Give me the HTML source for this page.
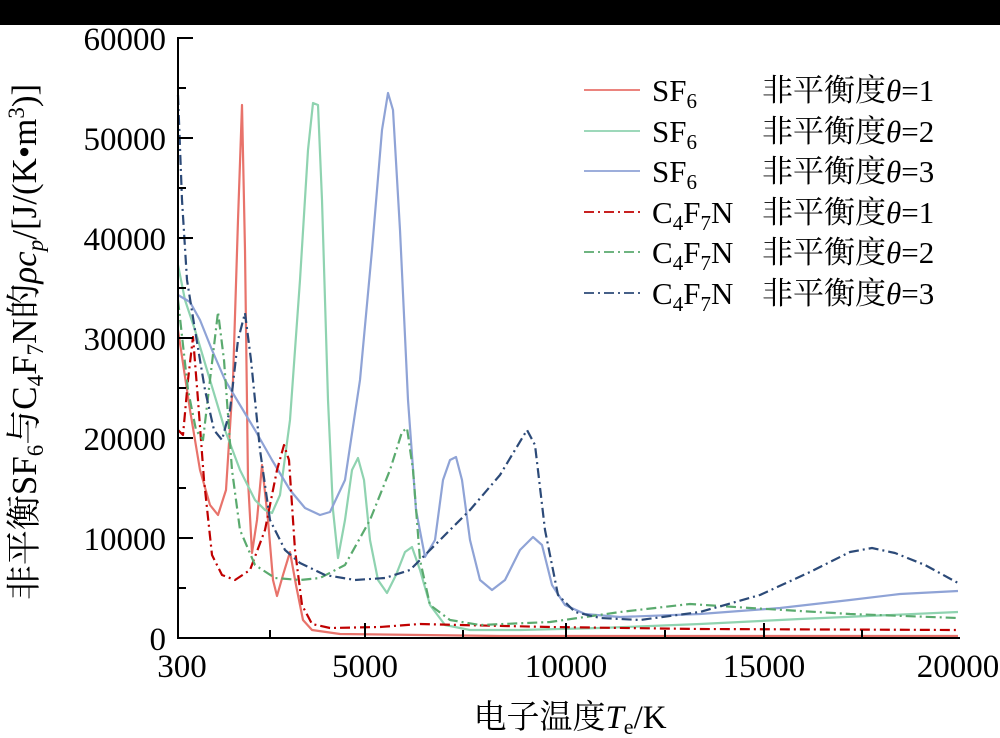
<!DOCTYPE html>
<html><head><meta charset="utf-8"><style>
body{margin:0;background:#fff}
svg{display:block}
text{font-family:"Liberation Serif","Noto Serif CJK SC",serif;fill:#000}
</style></head><body>
<svg width="1000" height="738" viewBox="0 0 1000 738" xmlns="http://www.w3.org/2000/svg">
<rect x="0" y="0" width="1000" height="738" fill="#fff"/>
<rect x="0" y="0" width="1000" height="25" fill="#000"/>
<g fill="none" stroke-width="2.2" stroke-linejoin="round">
<polyline stroke="#e8736b" points="178,330 190,410 200,470 210,505 218,515 226,490 233,380 238,220 242,105 245,250 248,480 252,553 257,520 262,465 268,520 273,580 277,596 283,575 290,552 296,585 303,620 312,630 340,634 500,636 958,636"/>
<polyline stroke="#8fd3b0" points="178,265 185,300 195,330 210,380 225,430 240,470 255,500 265,510 272,513 280,495 290,420 300,280 308,150 313,103 318,105 322,200 328,400 333,510 338,558 345,520 352,470 358,458 364,480 370,540 378,580 387,593 396,575 405,552 412,547 420,570 430,605 445,625 470,630 520,630 600,628 700,624 800,619 958,612"/>
<polyline stroke="#8fa3d6" points="178,295 190,302 200,320 212,350 225,380 240,405 255,430 272,460 290,490 305,508 320,515 330,512 345,480 360,380 372,250 382,130 388,93 393,110 400,230 408,400 416,510 425,557 435,540 443,480 450,460 456,457 462,480 470,540 480,580 492,590 505,580 520,550 533,537 542,545 552,585 565,605 585,614 620,617 700,614 780,608 850,600 900,594 958,591"/>
<polyline stroke="#c00000" stroke-dasharray="10,4,2,4" points="178,430 183,435 188,380 193,337 198,400 204,480 212,555 222,575 235,580 250,570 265,530 277,470 284,445 289,460 295,550 302,605 312,624 330,628 380,627 420,624 460,625 550,627 700,629 958,630"/>
<polyline stroke="#5aaa6e" stroke-dasharray="10,4,2,4" points="178,300 188,390 196,430 203,440 210,380 218,312 224,360 232,470 240,530 255,565 275,578 300,580 320,578 345,565 370,520 390,470 402,432 407,428 413,470 420,560 430,605 450,620 480,625 550,622 620,612 690,604 750,608 850,614 958,618"/>
<polyline stroke="#2c4a78" stroke-dasharray="10,4,2,4" points="178,95 182,200 187,280 195,330 205,390 214,430 222,440 230,410 238,340 245,313 251,360 260,450 270,520 285,550 300,563 325,575 355,580 385,578 410,570 440,540 470,510 500,475 515,450 527,430 535,445 545,530 558,595 575,612 600,618 640,620 700,612 760,595 810,572 850,552 872,548 895,553 925,565 958,583"/>
</g>
<g stroke="#000" stroke-width="2" fill="none">
<polyline points="178,37 178,638 960,638"/>
<line x1="178" y1="38" x2="193" y2="38"/>
<line x1="178" y1="88" x2="186" y2="88"/>
<line x1="178" y1="138" x2="193" y2="138"/>
<line x1="178" y1="188" x2="186" y2="188"/>
<line x1="178" y1="238" x2="193" y2="238"/>
<line x1="178" y1="288" x2="186" y2="288"/>
<line x1="178" y1="338" x2="193" y2="338"/>
<line x1="178" y1="388" x2="186" y2="388"/>
<line x1="178" y1="438" x2="193" y2="438"/>
<line x1="178" y1="488" x2="186" y2="488"/>
<line x1="178" y1="538" x2="193" y2="538"/>
<line x1="178" y1="588" x2="186" y2="588"/>
<line x1="270" y1="638" x2="270" y2="630"/>
<line x1="365" y1="638" x2="365" y2="623"/>
<line x1="463" y1="638" x2="463" y2="630"/>
<line x1="566" y1="638" x2="566" y2="623"/>
<line x1="665" y1="638" x2="665" y2="630"/>
<line x1="764" y1="638" x2="764" y2="623"/>
<line x1="862" y1="638" x2="862" y2="630"/>
</g>
<g font-size="33" text-anchor="end">
<text x="166" y="50">60000</text>
<text x="166" y="150">50000</text>
<text x="166" y="250">40000</text>
<text x="166" y="350">30000</text>
<text x="166" y="450">20000</text>
<text x="166" y="550">10000</text>
<text x="166" y="650">0</text>
</g>
<g font-size="33" text-anchor="middle">
<text x="182" y="677">300</text>
<text x="365" y="677">5000</text>
<text x="566" y="677">10000</text>
<text x="764" y="677">15000</text>
<text x="958" y="677">20000</text>
</g>
<text x="570" y="728" font-size="33" text-anchor="middle">电子温度<tspan font-style="italic">T</tspan><tspan font-size="22" dy="6">e</tspan><tspan dy="-6">/K</tspan></text>
<text transform="translate(36,342) rotate(-90)" font-size="35" text-anchor="middle">非平衡SF<tspan font-size="23" dy="7">6</tspan><tspan dy="-7">与C</tspan><tspan font-size="23" dy="7">4</tspan><tspan dy="-7">F</tspan><tspan font-size="23" dy="7">7</tspan><tspan dy="-7">N的</tspan><tspan font-style="italic">ρc</tspan><tspan font-size="23" font-style="italic" dy="7">p</tspan><tspan dy="-7">/[J/(K•m</tspan><tspan font-size="23" dy="-12">3</tspan><tspan dy="12">)]</tspan></text>
<g stroke-width="1.8" fill="none">
<line x1="584" y1="90" x2="640" y2="90" stroke="#e8736b"/>
<line x1="584" y1="131" x2="640" y2="131" stroke="#8fd3b0"/>
<line x1="584" y1="171" x2="640" y2="171" stroke="#8fa3d6"/>
<line x1="584" y1="212" x2="640" y2="212" stroke="#c00000" stroke-dasharray="10,4,2,4"/>
<line x1="584" y1="252" x2="640" y2="252" stroke="#5aaa6e" stroke-dasharray="10,4,2,4"/>
<line x1="584" y1="293" x2="640" y2="293" stroke="#2c4a78" stroke-dasharray="10,4,2,4"/>
</g>
<g font-size="31">
<text x="652" y="101">SF<tspan font-size="21" dy="7">6</tspan></text>
<text x="652" y="142">SF<tspan font-size="21" dy="7">6</tspan></text>
<text x="652" y="182">SF<tspan font-size="21" dy="7">6</tspan></text>
<text x="652" y="223">C<tspan font-size="21" dy="7">4</tspan><tspan dy="-7">F</tspan><tspan font-size="21" dy="7">7</tspan><tspan dy="-7">N</tspan></text>
<text x="652" y="263">C<tspan font-size="21" dy="7">4</tspan><tspan dy="-7">F</tspan><tspan font-size="21" dy="7">7</tspan><tspan dy="-7">N</tspan></text>
<text x="652" y="304">C<tspan font-size="21" dy="7">4</tspan><tspan dy="-7">F</tspan><tspan font-size="21" dy="7">7</tspan><tspan dy="-7">N</tspan></text>
<text x="762" y="101">非平衡度<tspan font-style="italic">θ</tspan>=1</text>
<text x="762" y="142">非平衡度<tspan font-style="italic">θ</tspan>=2</text>
<text x="762" y="182">非平衡度<tspan font-style="italic">θ</tspan>=3</text>
<text x="762" y="223">非平衡度<tspan font-style="italic">θ</tspan>=1</text>
<text x="762" y="263">非平衡度<tspan font-style="italic">θ</tspan>=2</text>
<text x="762" y="304">非平衡度<tspan font-style="italic">θ</tspan>=3</text>
</g>
</svg>
</body></html>
